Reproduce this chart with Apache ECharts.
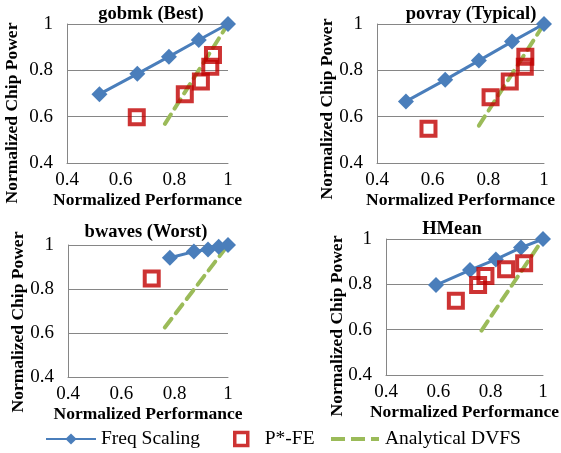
<!DOCTYPE html>
<html>
<head>
<meta charset="utf-8">
<script src="https://cdn.jsdelivr.net/npm/echarts@6/dist/echarts.min.js"></script>
<style>
	html, body { margin: 0; padding: 0; background: #fff; }
	#chart { width: 561px; height: 453px; }
</style>
</head>
<body>
<div id="chart"></div>
<script type="text/javascript">
	// 4 panels: [perf, power] pairs
	var panelTitles = ['gobmk (Best)', 'povray (Typical)', 'bwaves (Worst)', 'HMean'];
	var axisTicks = [0.4, 0.6, 0.8, 1];

	var freqScaling = [
		[[0.521, 0.697], [0.662, 0.785], [0.780, 0.859], [0.891, 0.931], [1, 1]],
		[[0.504, 0.666], [0.645, 0.759], [0.766, 0.842], [0.885, 0.924], [1, 1]],
		[[0.782, 0.942], [0.872, 0.970], [0.925, 0.980], [0.965, 0.992], [1, 1]],
		[[0.591, 0.797], [0.721, 0.863], [0.820, 0.910], [0.916, 0.962], [1, 1]]
	];
	var pStarFE = [
		[[0.660, 0.598], [0.839, 0.697], [0.899, 0.752], [0.934, 0.816], [0.944, 0.866]],
		[[0.585, 0.548], [0.808, 0.684], [0.877, 0.752], [0.931, 0.816], [0.933, 0.859]],
		[[0.714, 0.848]],
		[[0.667, 0.728], [0.752, 0.797], [0.780, 0.837], [0.859, 0.866], [0.928, 0.893]]
	];
	var analyticalDVFS = [
		[[0.765, 0.569], [1, 1]],
		[[0.766, 0.561], [1, 1]],
		[[0.763, 0.625], [1, 1]],
		[[0.765, 0.596], [1, 1]]
	];

	var FONT = '"Liberation Serif", serif';
	var grids = [
		{ left: 67, top: 24, width: 161, height: 139 },
		{ left: 377, top: 24, width: 167, height: 139 },
		{ left: 68, top: 245, width: 160, height: 132 },
		{ left: 386, top: 239, width: 159, height: 136 }
	];
	var titlePos = [[146, 0], [466, 0], [141, 218], [447, 215]];
	var yNamePos = [[12, 113], [327, 109], [18, 322], [337, 326]];

	var xAxes = [], yAxes = [], series = [], titles = [], graphics = [];
	for (var i = 0; i < 4; i++) {
		titles.push({
			text: panelTitles[i],
			left: titlePos[i][0], top: titlePos[i][1],
			textAlign: 'center',
			textStyle: { fontFamily: FONT, fontSize: 18.5, fontWeight: 'bold', color: '#000' }
		});
		xAxes.push({
			gridIndex: i, type: 'value', min: 0.4, max: 1, interval: 0.2,
			name: 'Normalized Performance', nameLocation: 'middle', nameGap: 28,
			nameTextStyle: { fontFamily: FONT, fontSize: 17.5, fontWeight: 'bold', color: '#000' },
			axisLine: { show: true, lineStyle: { color: '#868686', width: 1 } },
			axisTick: { show: false },
			splitLine: { show: false },
			axisLabel: {
				fontFamily: FONT, fontSize: 19, color: '#000', margin: 8,
				formatter: function (v) { return axisTicks.indexOf(+v.toFixed(1)) >= 0 ? String(+v.toFixed(1)) : ''; }
			}
		});
		yAxes.push({
			gridIndex: i, type: 'value', min: 0.4, max: 1, interval: 0.2,
			axisLine: { show: true, lineStyle: { color: '#868686', width: 1 } },
			axisTick: { show: false },
			splitLine: { show: true, lineStyle: { color: '#868686', width: 1 } },
			axisLabel: {
				fontFamily: FONT, fontSize: 19, color: '#000', margin: 14,
				formatter: function (v) { return String(+v.toFixed(1)); }
			}
		});
		graphics.push({
			type: 'text', x: yNamePos[i][0], y: yNamePos[i][1], rotation: Math.PI / 2,
			style: {
				text: 'Normalized Chip Power', fill: '#000',
				font: 'bold 17.5px "Liberation Serif", serif', align: 'center', verticalAlign: 'middle'
			}
		});
		series.push({
			name: 'Analytical DVFS', type: 'line', xAxisIndex: i, yAxisIndex: i,
			data: analyticalDVFS[i], symbol: 'none', z: 2,
			lineStyle: { color: '#9bbb59', width: 4, type: [11, 7], cap: 'round' },
			itemStyle: { color: '#9bbb59' }
		});
		series.push({
			name: 'Freq Scaling', type: 'line', xAxisIndex: i, yAxisIndex: i,
			data: freqScaling[i], symbol: 'diamond', symbolSize: 16, z: 3,
			lineStyle: { color: '#4a7ebb', width: 3 },
			itemStyle: { color: '#4a7ebb' }
		});
		series.push({
			name: 'P*-FE', type: 'scatter', xAxisIndex: i, yAxisIndex: i,
			data: pStarFE[i], symbol: 'rect', symbolSize: 14, z: 4,
			itemStyle: { color: 'rgba(255,255,255,0)', borderColor: '#c00000', borderWidth: 4 }
		});
	}

	var legendText = { fontFamily: FONT, fontSize: 19.5, color: '#000' };
	var myChart = echarts.init(document.getElementById('chart'));
	myChart.setOption({
		animation: false,
		backgroundColor: '#fff',
		title: titles,
		grid: grids,
		xAxis: xAxes,
		yAxis: yAxes,
		graphic: graphics,
		legend: [{
			data: ['Freq Scaling'], left: 40, top: 424,
			itemWidth: 50, itemHeight: 14, textStyle: legendText
		}, {
			data: [{ name: 'P*-FE', icon: 'rect' }], left: 228, top: 424,
			itemWidth: 13, itemHeight: 13,
			itemStyle: { color: 'rgba(255,255,255,0)', borderColor: '#c00000', borderWidth: 3.5 },
			textStyle: Object.assign({ padding: [0, 0, 0, 12] }, legendText)
		}, {
			data: [{
				name: 'Analytical DVFS',
				icon: 'path://M0 0h14v4h-14z M20 0h14v4h-14z M40 0h8v4h-8z'
			}], left: 326, top: 424,
			itemWidth: 50, itemHeight: 4,
			itemStyle: { color: '#9bbb59', borderWidth: 0 },
			textStyle: legendText
		}],
		series: series
	});
</script>
</body>
</html>
